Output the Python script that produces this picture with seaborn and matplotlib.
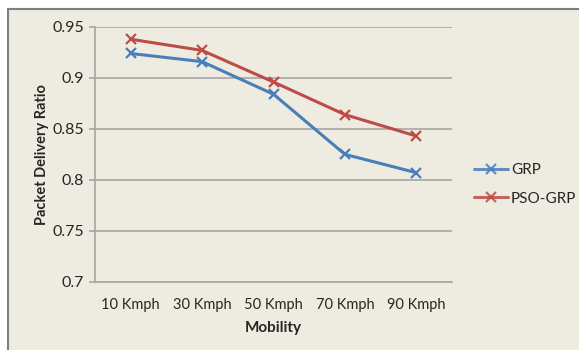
import matplotlib
matplotlib.use("Agg")
import matplotlib.pyplot as plt
import seaborn as sns
import pandas as pd
from matplotlib.patches import Rectangle

categories = ["10 Kmph", "30 Kmph", "50 Kmph", "70 Kmph", "90 Kmph"]
grp = [0.924, 0.916, 0.884, 0.825, 0.807]
pso_grp = [0.938, 0.927, 0.896, 0.864, 0.843]
y_ticks = [0.7, 0.75, 0.8, 0.85, 0.9, 0.95]
y_tick_labels = ["0.7", "0.75", "0.8", "0.85", "0.9", "0.95"]

df = pd.DataFrame({
    "Mobility": categories * 2,
    "Ratio": grp + pso_grp,
    "Protocol": ["GRP"] * len(grp) + ["PSO-GRP"] * len(pso_grp),
})

sns.set_theme(style="white")
plt.rcParams["font.family"] = ["Lato", "DejaVu Sans"]

bg = "#EEECE1"
grid_col = "#A6A6A6"
fig = plt.figure(figsize=(5.79, 3.5), dpi=100)
fig.patch.set_facecolor("white")
fig.add_artist(Rectangle((8 / 579, -0.02), 1.2, 1 - 9 / 350 + 0.02,
                         transform=fig.transFigure, facecolor=bg,
                         edgecolor="#7F7F7F", linewidth=1.5, zorder=0))

ax = fig.add_axes([95 / 579, 1 - 281.7 / 350, 357 / 579, (281.7 - 27) / 350])
ax.set_facecolor(bg)
ax.patch.set_alpha(0)

palette = {"GRP": "#4A7EBB", "PSO-GRP": "#BE4B48"}
df["x"] = df["Mobility"].map({c: i for i, c in enumerate(categories)})
sns.lineplot(data=df, x="x", y="Ratio", hue="Protocol", palette=palette,
             marker="x", markersize=7, markeredgewidth=1.6, linewidth=2.2,
             ax=ax, legend=True)
for line in ax.lines:
    line.set_markeredgecolor(line.get_color())

ax.set_xlim(-0.5, len(categories) - 0.5)
ax.set_xticks(range(len(categories)))
ax.set_xticklabels(categories, fontsize=10.5, color="#262626")
ax.set_ylim(0.7, 0.95)
ax.set_yticks(y_ticks)
ax.set_yticklabels(y_tick_labels, fontsize=11.5, color="#262626")
ax.yaxis.grid(True, color=grid_col, linewidth=1.2)
ax.set_axisbelow(True)
for s in ["top", "right"]:
    ax.spines[s].set_visible(False)
for s in ["left", "bottom"]:
    ax.spines[s].set_color(grid_col)
    ax.spines[s].set_linewidth(1.2)
ax.tick_params(axis="y", which="both", left=True, length=4, color=grid_col, width=1.2, pad=4)
ax.tick_params(axis="x", bottom=False, pad=6)

ax.set_xlabel("Mobility", fontsize=11, fontweight="bold", labelpad=6)
ax.set_ylabel("Packet Delivery Ratio", fontsize=10.5, fontweight="bold", labelpad=2)

leg = ax.legend(loc="upper left", bbox_to_anchor=(1.045, 0.49), frameon=False,
                fontsize=11, handlelength=2.2, handletextpad=0.2, labelspacing=0.95,
                borderaxespad=0)
for h in leg.get_lines():
    h.set_markeredgecolor(h.get_color())
    h.set_alpha(0.85)

fig.savefig("out.png", dpi=100, facecolor=fig.get_facecolor())
